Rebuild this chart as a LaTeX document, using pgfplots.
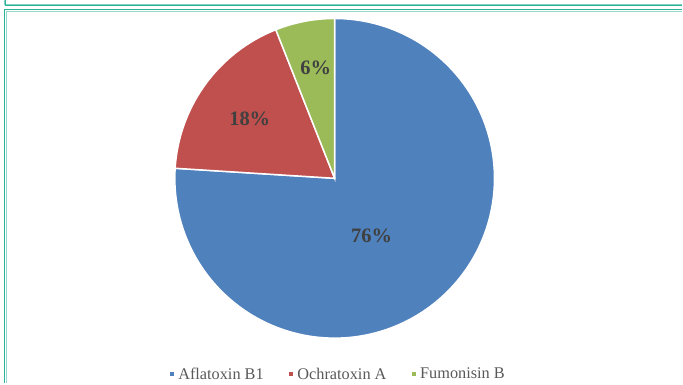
\documentclass[border=0pt]{standalone}
\usepackage{fontspec}
\setmainfont{Liberation Serif}
\usepackage{pgfplots}
\pgfplotsset{compat=1.18}
\definecolor{cA}{HTML}{4F81BD}
\definecolor{cB}{HTML}{C0504D}
\definecolor{cC}{HTML}{9BBB59}
\definecolor{frame}{HTML}{2BB39A}
\definecolor{lbl}{HTML}{404040}
\definecolor{leg}{HTML}{595959}
\begin{document}
\begin{tikzpicture}
% values (percent)
\def\vA{76}\def\vB{18}\def\vC{6}
\def\cx{335}\def\cy{205}\def\R{160}
\pgfmathsetmacro\aA{90}
\pgfmathsetmacro\aB{\aA-3.6*\vA}
\pgfmathsetmacro\aC{\aB-3.6*\vB}
\pgfmathsetmacro\aD{\aC-3.6*\vC}
\begin{axis}[
  scale only axis, width=683pt, height=383pt,
  xmin=0, xmax=683, ymin=0, ymax=383,
  hide axis, clip=false,
  legend columns=3,
  legend style={at={(axis cs:338,9)}, anchor=center, draw=none, fill=none,
    font=\fontsize{16.3}{18}\selectfont, text=leg,
    /tikz/every even column/.append style={column sep=22pt},
    /tikz/every odd column/.append style={column sep=1pt}},
  legend image code/.code={\fill[#1] (0pt,-2.6pt) rectangle (5.2pt,2.6pt);},
]
\addplot[fill=cA, draw=white, line width=1.5pt, domain=\aB:\aA, samples=150, variable=\t]
  ({\cx+\R*cos(\t)},{\cy+\R*sin(\t)}) -- (axis cs:\cx,\cy) -- cycle;
\addlegendentry{Aflatoxin B1}
\addplot[fill=cB, draw=white, line width=1.5pt, domain=\aC:\aB, samples=50, variable=\t]
  ({\cx+\R*cos(\t)},{\cy+\R*sin(\t)}) -- (axis cs:\cx,\cy) -- cycle;
\addlegendentry{Ochratoxin A}
\addplot[fill=cC, draw=white, line width=1.5pt, domain=\aD:\aC, samples=20, variable=\t]
  ({\cx+\R*cos(\t)},{\cy+\R*sin(\t)}) -- (axis cs:\cx,\cy) -- cycle;
\addlegendentry{Fumonisin B}
% data labels
\node[font=\bfseries\fontsize{20.5}{22}\selectfont, text=lbl] at (axis cs:372,147) {\vA\%};
\node[font=\bfseries\fontsize{20.5}{22}\selectfont, text=lbl] at (axis cs:250,265) {\vB\%};
\node[font=\bfseries\fontsize{20.5}{22}\selectfont, text=lbl] at (axis cs:316,316) {\vC\%};
% frame lines
\draw[frame!60, line width=1pt] (axis cs:5,383) -- (axis cs:5,378.5) -- (axis cs:683,378.5);
\draw[frame, line width=1pt] (axis cs:6,383) -- (axis cs:6,377.5) -- (axis cs:683,377.5);
\draw[frame, line width=1.4pt] (axis cs:4.5,0) -- (axis cs:4.5,374) -- (axis cs:683,374);
\draw[frame!50, line width=0.8pt] (axis cs:6,0) -- (axis cs:6,372.5) -- (axis cs:683,372.5);
\path (axis cs:0,0) rectangle (axis cs:683,383);
\end{axis}
\end{tikzpicture}
\end{document}
